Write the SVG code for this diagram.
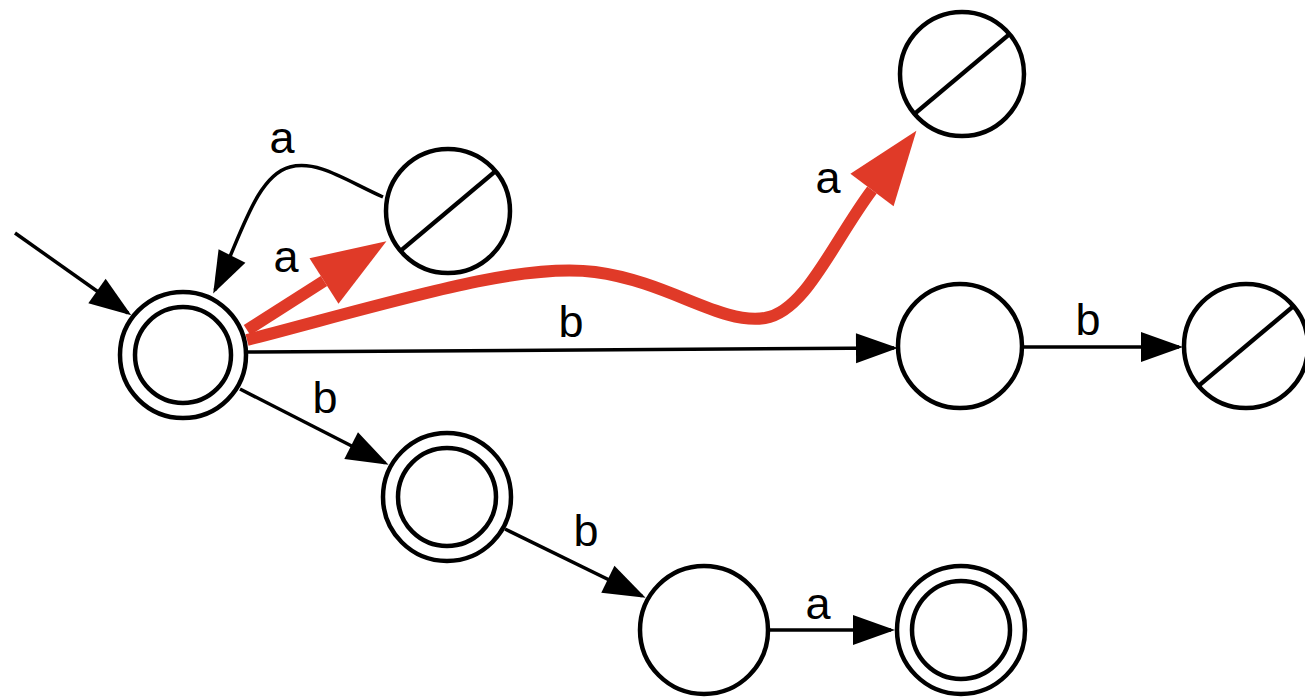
<svg xmlns="http://www.w3.org/2000/svg" width="1305" height="697" viewBox="0 0 1305 697">
<style>
.st{fill:#fff;stroke:#000;stroke-width:4.5}
.sl{stroke:#000;stroke-width:4.5;fill:none}
.e{fill:none;stroke:#000;stroke-width:3.5}
.r{fill:none;stroke:#e03a28;stroke-width:12}
.lb{font-family:"Liberation Sans",Arial,sans-serif;font-size:45px;fill:#000;text-anchor:middle}
</style>
<defs>
<marker id="ah" markerUnits="userSpaceOnUse" markerWidth="42" markerHeight="30" refX="38" refY="15" orient="auto" overflow="visible">
<path d="M0,0 L42,15 L0,30 z" fill="#000"/>
</marker>
<marker id="rh" markerUnits="userSpaceOnUse" markerWidth="74" markerHeight="54" refX="0" refY="27" orient="auto" overflow="visible">
<path d="M0,0 L74,27 L0,54 z" fill="#e03a28"/>
</marker>
</defs>
<rect width="1305" height="697" fill="#fff"/>
<g id="connectors">
<path class="e" d="M15,233 L128,313" marker-end="url(#ah)"/>
<path class="e" d="M383,197 C345,180 318,160 290,167 C255,176 240,240 215,290" marker-end="url(#ah)"/>
<path class="e" d="M248,352 L894,348" marker-end="url(#ah)"/>
<path class="e" d="M1024,347 L1179,347" marker-end="url(#ah)"/>
<path class="e" d="M240,389 L385,463" marker-end="url(#ah)"/>
<path class="e" d="M505,529 L642,596" marker-end="url(#ah)"/>
<path class="e" d="M770,630 L891,630" marker-end="url(#ah)"/>
<path class="r" d="M247,330 L324,281" marker-end="url(#rh)"/>
<path class="r" d="M247,340 C400,300 520,262 595,272 C670,282 720,325 765,318 C805,312 833,242 872,190" marker-end="url(#rh)"/>
<text class="lb" x="282" y="153">a</text>
<text class="lb" x="286" y="272">a</text>
<text class="lb" x="828" y="193">a</text>
<text class="lb" x="571" y="337">b</text>
<text class="lb" x="1088" y="335">b</text>
<text class="lb" x="325" y="413">b</text>
<text class="lb" x="586" y="546">b</text>
<text class="lb" x="818" y="619">a</text>
</g>
<g id="start"><circle class="st" cx="183" cy="355" r="63"/><circle class="st" cx="183" cy="355" r="48"/></g>
<g id="nA"><circle class="st" cx="448" cy="211" r="62"/><line class="sl" x1="400.5" y1="250.9" x2="495.5" y2="171.1"/></g>
<g id="nB"><circle class="st" cx="962" cy="74" r="62"/><line class="sl" x1="914.5" y1="113.9" x2="1009.5" y2="34.1"/></g>
<g id="nC"><circle class="st" cx="960" cy="346" r="62"/></g>
<g id="nD"><circle class="st" cx="1246" cy="346" r="62"/><line class="sl" x1="1198.5" y1="385.9" x2="1293.5" y2="306.1"/></g>
<g id="nE"><circle class="st" cx="447" cy="497" r="64"/><circle class="st" cx="447" cy="497" r="49"/></g>
<g id="nF"><circle class="st" cx="704" cy="630" r="64"/></g>
<g id="nG"><circle class="st" cx="961" cy="630" r="64"/><circle class="st" cx="961" cy="630" r="49"/></g>
</svg>
